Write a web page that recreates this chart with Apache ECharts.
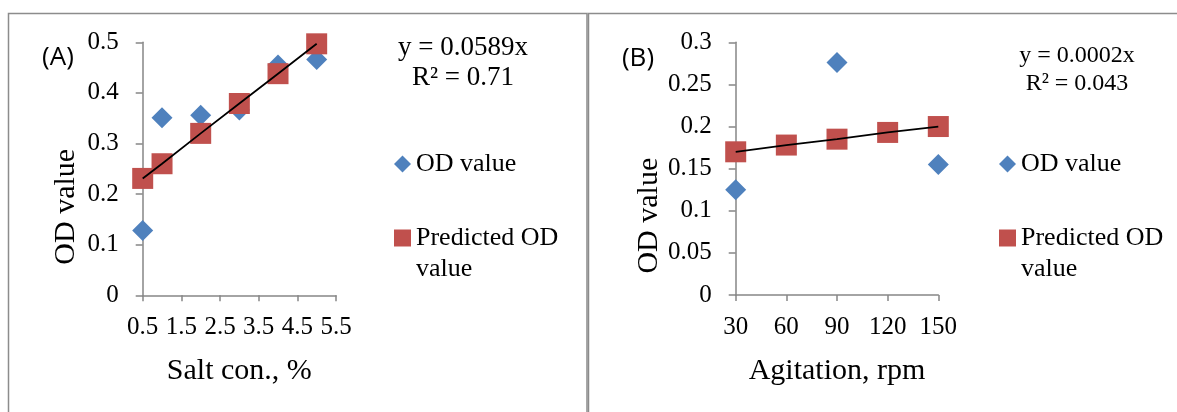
<!DOCTYPE html>
<html>
<head>
<meta charset="utf-8">
<script src="https://cdn.jsdelivr.net/npm/echarts@6/dist/echarts.min.js"></script>
<style>
  html, body { margin: 0; padding: 0; background: #fff; }
  #chart { width: 1177px; height: 412px; }
</style>
</head>
<body>
<div id="chart"></div>
<script>
// (A) optical density against salt concentration
const saltConc = [0.5, 1, 2, 3, 4, 5];
const saltOD = [0.128, 0.351, 0.356, 0.366, 0.455, 0.466];
const saltPredicted = [0.231, 0.260, 0.320, 0.379, 0.438, 0.497];
const saltTicks = [0.5, 1.5, 2.5, 3.5, 4.5, 5.5];
const saltEquation = ['y = 0.0589x', 'R² = 0.71'];

// (B) optical density against agitation speed
const agitationRpm = [30, 60, 90, 120, 150];
const agitationObsRpm = [30, 90, 150];
const agitationOD = [0.125, 0.276, 0.155];
const agitationPredicted = [0.170, 0.178, 0.185, 0.193, 0.200];
const agitationEquation = ['y = 0.0002x', 'R² = 0.043'];

const pairs = (xs, ys) => xs.map((x, i) => [x, ys[i]]);

const SERIF = 'Liberation Serif';
const AXIS_GRAY = '#868686';
const BLUE = '#4F81BD';
const RED = '#C0504D';

function valueAxis(extra) {
  return Object.assign({
    type: 'value',
    axisLine: { show: true, lineStyle: { color: AXIS_GRAY, width: 1.5 } },
    axisTick: { show: true, length: 7, inside: false, lineStyle: { color: AXIS_GRAY, width: 1.5 } },
    splitLine: { show: false },
    nameTextStyle: { fontFamily: SERIF, fontSize: 30, color: '#000' }
  }, extra);
}

const labelStyle = { fontFamily: SERIF, fontSize: 25, color: '#000' };

const chart = echarts.init(document.getElementById('chart'), null, { renderer: 'canvas' });

const legendText = { fontFamily: SERIF, fontSize: 26, color: '#000', lineHeight: 31 };
// a blank leading line keeps the icon level with "Predicted OD"
const twoLineLabel = () => '\u00a0\nPredicted OD\nvalue';

chart.setOption({
  animation: false,
  backgroundColor: '#fff',
  grid: [
    { left: 142.7, top: 42.3, width: 193.3, height: 253, containLabel: false },
    { left: 735.7, top: 42.3, width: 202.6, height: 252.7, containLabel: false }
  ],
  xAxis: [
    valueAxis({
      gridIndex: 0, min: 0.5, max: 5.5, interval: 0.5,
      name: 'Salt con., %', nameLocation: 'middle', nameGap: 61,
      axisTick: { show: true, length: 6, customValues: saltTicks, lineStyle: { color: AXIS_GRAY, width: 1.5 } },
      axisLabel: Object.assign({ margin: 20, customValues: saltTicks }, labelStyle)
    }),
    valueAxis({
      gridIndex: 1, min: 30, max: 150, interval: 30,
      name: 'Agitation, rpm', nameLocation: 'middle', nameGap: 61,
      axisTick: { show: true, length: 6, lineStyle: { color: AXIS_GRAY, width: 1.5 } },
      axisLabel: Object.assign({ margin: 20 }, labelStyle)
    })
  ],
  yAxis: [
    valueAxis({
      gridIndex: 0, min: 0, max: 0.5, interval: 0.1,
      name: 'OD value', nameLocation: 'middle', nameGap: 62,
      nameTextStyle: { fontFamily: SERIF, fontSize: 30, color: '#000', padding: [0, 76, 0, 0] },
      axisLabel: Object.assign({ margin: 24 }, labelStyle)
    }),
    valueAxis({
      gridIndex: 1, min: 0, max: 0.3, interval: 0.05,
      name: 'OD value', nameLocation: 'middle', nameGap: 72,
      nameTextStyle: { fontFamily: SERIF, fontSize: 30, color: '#000', padding: [0, 94, 0, 0] },
      axisLabel: Object.assign({ margin: 24 }, labelStyle)
    })
  ],
  legend: [
    { data: [{ name: 'OD value', icon: 'diamond' }], left: 394, top: 148.5, padding: 0,
      itemWidth: 17, itemHeight: 17, textStyle: legendText, selectedMode: false },
    { data: [{ name: 'Predicted OD value', icon: 'rect' }], left: 394, top: 191.5, padding: 0,
      itemWidth: 17, itemHeight: 17, textStyle: legendText, selectedMode: false,
      formatter: twoLineLabel },
    { data: [{ name: 'OD value', icon: 'diamond' }], left: 999, top: 148.5, padding: 0,
      itemWidth: 17, itemHeight: 17, textStyle: legendText, selectedMode: false },
    { data: [{ name: 'Predicted OD value', icon: 'rect' }], left: 999, top: 191.5, padding: 0,
      itemWidth: 17, itemHeight: 17, textStyle: legendText, selectedMode: false,
      formatter: twoLineLabel }
  ],
  series: [
    { name: 'OD value', type: 'scatter', xAxisIndex: 0, yAxisIndex: 0, z: 2,
      symbol: 'diamond', symbolSize: 21, itemStyle: { color: BLUE, opacity: 1 },
      data: pairs(saltConc, saltOD) },
    { name: 'Predicted OD value', type: 'scatter', xAxisIndex: 0, yAxisIndex: 0, z: 3,
      symbol: 'rect', symbolSize: 21, itemStyle: { color: RED, opacity: 1 },
      data: pairs(saltConc, saltPredicted) },
    { name: 'trend A', type: 'line', xAxisIndex: 0, yAxisIndex: 0, z: 4,
      showSymbol: false, symbol: 'none', lineStyle: { color: '#000', width: 1.8 },
      data: pairs(saltConc, saltPredicted) },

    { name: 'OD value', type: 'scatter', xAxisIndex: 1, yAxisIndex: 1, z: 2,
      symbol: 'diamond', symbolSize: 21, itemStyle: { color: BLUE, opacity: 1 },
      data: pairs(agitationObsRpm, agitationOD) },
    { name: 'Predicted OD value', type: 'scatter', xAxisIndex: 1, yAxisIndex: 1, z: 3,
      symbol: 'rect', symbolSize: 21, itemStyle: { color: RED, opacity: 1 },
      data: pairs(agitationRpm, agitationPredicted) },
    { name: 'trend B', type: 'line', xAxisIndex: 1, yAxisIndex: 1, z: 4,
      showSymbol: false, symbol: 'none', lineStyle: { color: '#000', width: 1.8 },
      data: pairs(agitationRpm, agitationPredicted) }
  ],
  graphic: [
    // panel frames
    { type: 'rect', shape: { x: 8.5, y: 13.5, width: 578.5, height: 420 }, z: 0,
      style: { fill: null, stroke: '#8c8c8c', lineWidth: 1.5 } },
    { type: 'rect', shape: { x: 588.5, y: 13.5, width: 600, height: 420 }, z: 0,
      style: { fill: null, stroke: '#8c8c8c', lineWidth: 1.5 } },
    // panel tags
    { type: 'text', x: 58, y: 58, z: 10,
      style: { text: '(A)', font: '26px "Open Sans"', fill: '#000', align: 'center', verticalAlign: 'middle' } },
    { type: 'text', x: 638, y: 59, z: 10,
      style: { text: '(B)', font: '26px "Open Sans"', fill: '#000', align: 'center', verticalAlign: 'middle' } },
    // fitted equations
    { type: 'text', x: 463, y: 63, z: 10,
      style: { text: saltEquation.join('\n'), font: '27px "Liberation Serif"', lineHeight: 30,
               fill: '#000', align: 'center', verticalAlign: 'middle' } },
    { type: 'text', x: 1077, y: 70, z: 10,
      style: { text: agitationEquation.join('\n'), font: '24px "Liberation Serif"', lineHeight: 28,
               fill: '#000', align: 'center', verticalAlign: 'middle' } }
  ]
});
</script>
</body>
</html>
